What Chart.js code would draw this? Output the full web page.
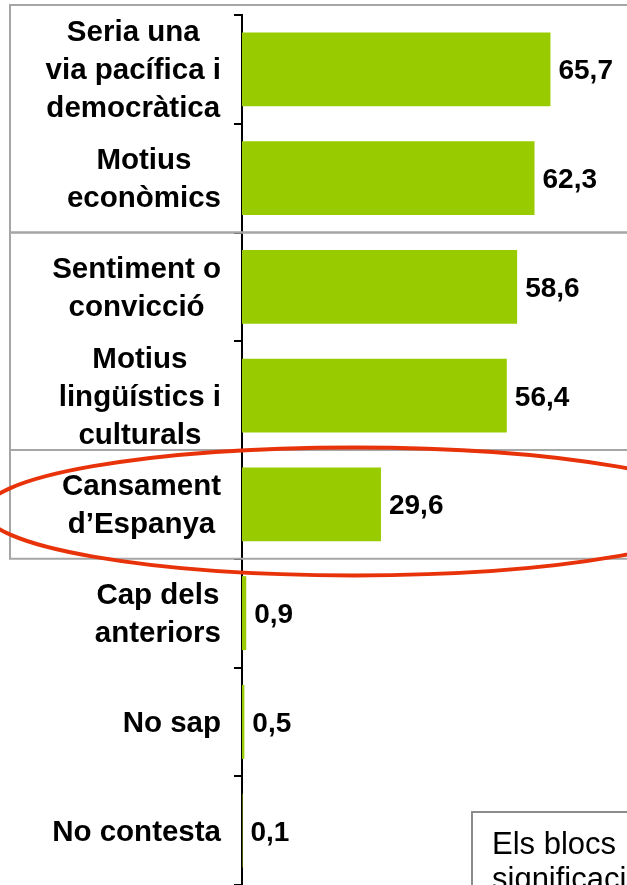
<!DOCTYPE html>
<html>
<head>
<meta charset="utf-8">
<script src="https://cdn.jsdelivr.net/npm/chart.js@4"></script>
<style>
  html, body { margin:0; padding:0; background:#fff; overflow:hidden; }
  canvas { display:block; }
</style>
</head>
<body>
<canvas id="chart" width="627" height="885"></canvas>
<script>
// ─────────────────────────────────────────────
// Données : motius (catégories) et pourcentages
// ─────────────────────────────────────────────
const labels = [
  ['Seria una', 'via pacífica i', 'democràtica'],
  ['Motius', 'econòmics'],
  ['Sentiment o', 'convicció'],
  ['Motius', 'lingüístics i', 'culturals'],
  ['Cansament', 'd’Espanya'],
  ['Cap dels', 'anteriors'],
  ['No sap'],
  ['No contesta']
];
const values = [65.7, 62.3, 58.6, 56.4, 29.6, 0.9, 0.5, 0.1];

// Blocs encadrés en gris (index de début / fin) et catégorie entourée en rouge
const blocks = [[0, 1], [2, 3], [4, 4]];
const circled = 4;
const noteLines = ['Els blocs', 'significació'];

const FONT_B = 'bold 29.5px "Liberation Sans", Arial, sans-serif';
const FONT_V = 'bold 28px "Liberation Sans", Arial, sans-serif';
const FONT_N = '31px "Liberation Sans", Arial, sans-serif';
const fmt = v => v.toFixed(1).replace('.', ',');

// ─────────────────────────────────────────────
// Plugins de dessin (étiquettes, valeurs, cadres)
// ─────────────────────────────────────────────

// Cadres gris autour des blocs, dessinés sous les barres
const boxPlugin = {
  id: 'boxes',
  beforeDatasetsDraw(chart) {
    const { ctx, scales: { y } } = chart;
    const step = y.getPixelForValue(1) - y.getPixelForValue(0);
    ctx.save();
    ctx.strokeStyle = '#a6a6a6'; ctx.lineWidth = 2;
    blocks.forEach(([a, b], k) => {
      const top = y.getPixelForValue(a) - step / 2 - (k === 0 ? 10 : 0);
      const bot = y.getPixelForValue(b) + step / 2;
      ctx.strokeRect(10, top, 700, bot - top);
    });
    ctx.restore();
  }
};

// Étiquettes de catégories : bloc aligné à droite, lignes centrées (comme Excel)
const labelPlugin = {
  id: 'labels',
  afterDraw(chart) {
    const { ctx, chartArea, scales: { x, y } } = chart;
    ctx.save();
    ctx.fillStyle = '#000';
    labels.forEach((lines, i) => {
      const cy = y.getPixelForValue(i);
      ctx.font = FONT_B;
      const widest = Math.max(...lines.map(l => ctx.measureText(l).width));
      const cx = chartArea.left - 21 - widest / 2;
      ctx.textAlign = 'center';
      lines.forEach((l, j) => {
        ctx.fillText(l, cx, cy + (j - (lines.length - 1) / 2) * 38 + 10);
      });
      // Valeur au bout de la barre
      ctx.font = FONT_V;
      ctx.textAlign = 'left';
      ctx.fillText(fmt(values[i]), x.getPixelForValue(values[i]) + 8, cy + 10);
    });

    // Ellipse rouge autour de « Cansament d’Espanya »
    ctx.strokeStyle = '#e8320a'; ctx.lineWidth = 4;
    ctx.beginPath();
    ctx.ellipse(354, y.getPixelForValue(circled) + 7, 369, 64, 0, 0, Math.PI * 2);
    ctx.stroke();

    // Encadré de note en bas à droite (coupé par le bord)
    ctx.strokeStyle = '#8c8c8c'; ctx.lineWidth = 2;
    ctx.strokeRect(472, 812, 300, 200);
    ctx.font = FONT_N;
    noteLines.forEach((t, j) => ctx.fillText(t, 492, 854 + j * 35));
    ctx.restore();
  }
};

// ─────────────────────────────────────────────
// Graphique Chart.js : barres horizontales
// ─────────────────────────────────────────────
new Chart(document.getElementById('chart'), {
  type: 'bar',
  data: {
    labels: labels,
    datasets: [{ data: values, backgroundColor: '#99cc00', borderWidth: 0, barPercentage: 0.68, categoryPercentage: 1 }]
  },
  options: {
    indexAxis: 'y', responsive: false, animation: false,
    layout: { padding: { top: 15, bottom: 0, left: 0, right: 0 } },
    plugins: { legend: { display: false }, tooltip: { enabled: false } },
    scales: {
      x: { display: false, min: 0, max: 82 },
      y: {
        afterFit: s => { s.width = 242; },
        ticks: { display: false },
        grid: { drawOnChartArea: false, color: '#000', lineWidth: 2, tickLength: 8, offset: true },
        border: { color: '#000', width: 2 }
      }
    }
  },
  plugins: [boxPlugin, labelPlugin]
});
</script>
</body>
</html>
